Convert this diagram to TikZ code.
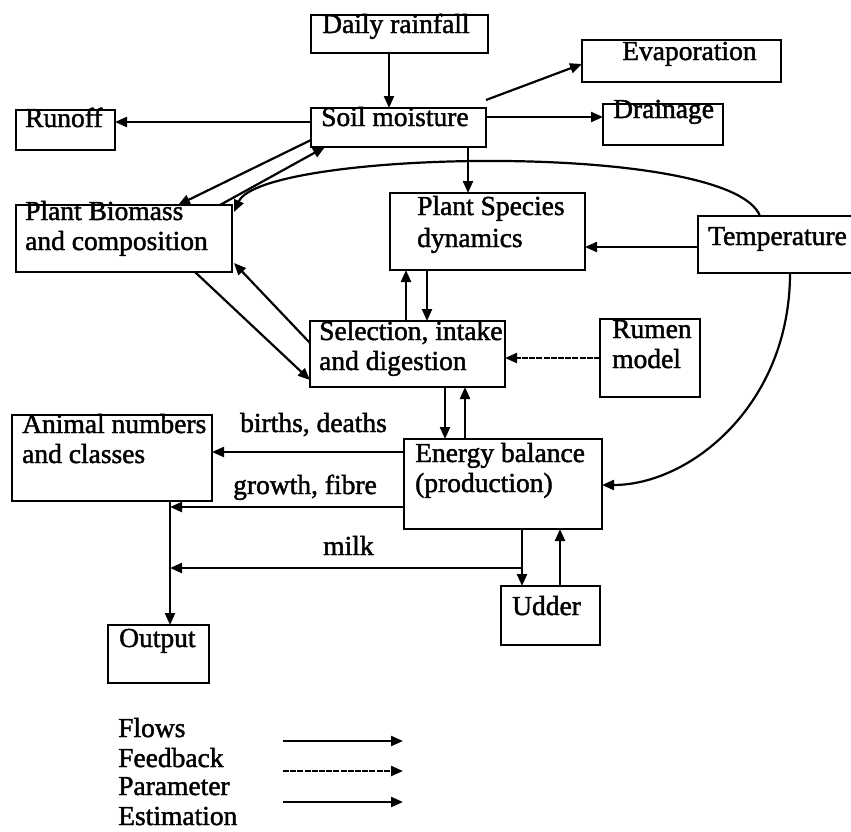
\documentclass[tikz,border=0pt]{standalone}
\usepackage{fontspec}
\setmainfont{Liberation Serif}[FakeBold=1.6]
\usetikzlibrary{arrows.meta}
\tikzset{
  bx/.style={draw, line width=2.4pt, inner sep=0pt, outer sep=0pt, anchor=north west},
  tx/.style={anchor=base west, inner sep=0pt, font=\fontsize{27.5}{30}\selectfont},
  arr/.style={line width=2.2pt, -{Triangle[length=12pt,width=10pt]}},
  fbarr/.style={arr, dash pattern=on 6pt off 1.2pt},
}
\newcommand\mkbox[5]{\node[bx, minimum width={#4-#2}, minimum height={#5-#3}] (#1) at (#2,#3) {};}
\begin{document}
\begin{tikzpicture}[x=1pt,y=-1pt]
\useasboundingbox (0,0) rectangle (851,831);
% boxes
\mkbox{rain}{311}{15}{488}{53}
\mkbox{evap}{582}{40}{781}{82}
\mkbox{soil}{311}{108}{486}{147}
\mkbox{runoff}{16}{110}{115}{150}
\mkbox{drain}{603}{104}{723}{145}
\mkbox{bio}{16}{205}{232}{272}
\mkbox{spec}{390}{193}{585}{270}
\mkbox{temp}{698}{216}{860}{273}
\mkbox{sel}{310}{321}{505}{387}
\mkbox{rumen}{600}{319}{700}{397}
\mkbox{anim}{12}{415}{212}{501}
\mkbox{energy}{404}{439}{602}{529}
\mkbox{udder}{501}{586}{600}{645}
\mkbox{output}{108}{625}{209}{683}
% texts
\node[tx] (t-rain) at (322,33) {Daily rainfall};
\node[tx] (t-evap) at (622,60) {Evaporation};
\node[tx] (t-soil) at (321,126) {Soil moisture};
\node[tx] (t-runoff) at (25,127) {Runoff};
\node[tx] (t-drain) at (613,118) {Drainage};
\node[tx] (t-bio1) at (25,220) {Plant Biomass};
\node[tx] (t-bio2) at (25,250) {and composition};
\node[tx] (t-spec1) at (417,215) {Plant Species};
\node[tx] (t-spec2) at (417,247) {dynamics};
\node[tx] (t-temp) at (708,245) {Temperature};
\node[tx] (t-sel1) at (319,340) {Selection, intake};
\node[tx] (t-sel2) at (319,370) {and digestion};
\node[tx] (t-rumen1) at (612,338) {Rumen};
\node[tx] (t-rumen2) at (612,368) {model};
\node[tx] (t-anim1) at (22,433) {Animal numbers};
\node[tx] (t-anim2) at (22,463) {and classes};
\node[tx] (t-energy1) at (415,462) {Energy balance};
\node[tx] (t-energy2) at (415,492) {(production)};
\node[tx] (t-udder) at (512,615) {Udder};
\node[tx] (t-output) at (119,647) {Output};
\node[tx] (l-bd) at (240,432) {births, deaths};
\node[tx] (l-gf) at (233,494) {growth, fibre};
\node[tx] (l-milk) at (323,555) {milk};
% connectors
\draw[arr] ([xshift=-10.5pt]rain.south) -- ([xshift=-9.5pt]soil.north);
\draw[arr] ([yshift=5.5pt]soil.west) -- ([yshift=8pt]runoff.east);
\draw[arr] ([yshift=8pt]soil.north east) -- ([yshift=-3pt]evap.west);
\draw[arr] ([yshift=10.5pt]soil.east) -- ([yshift=7.5pt]drain.west);
\draw[arr] ([yshift=-12.5pt]soil.west) -- ([xshift=54pt]bio.north);
\draw[arr] ([xshift=96pt]bio.north) -- ([xshift=-73.5pt]soil.south);
\draw[arr] ([xshift=69.5pt]soil.south) -- ([xshift=-19.5pt]spec.north);
\draw[arr] ([xshift=-19pt]temp.north) .. controls (730,140) and (262,150) .. ([xshift=2pt,yshift=26.5pt]bio.east);
\draw[arr] ([yshift=-2.5pt]temp.west) -- ([yshift=-15.5pt]spec.east);
\draw[arr] ([xshift=11pt]temp.south) .. controls (790,405) and (690,485) .. ([yshift=-1pt]energy.east);
\draw[arr] ([xshift=71pt]bio.south) -- ([yshift=-26pt]sel.west);
\draw[arr] ([yshift=11pt]sel.west) -- ([xshift=2pt,yshift=-24.5pt]bio.east);
\draw[arr] ([xshift=-1.5pt]sel.north) -- ([xshift=-81.5pt]spec.south);
\draw[arr] ([xshift=-60.5pt]spec.south) -- ([xshift=19.5pt]sel.north);
\draw[fbarr] (rumen.west) -- ([yshift=-4pt]sel.east);
\draw[arr] ([xshift=37.5pt]sel.south) -- ([xshift=-58pt]energy.north);
\draw[arr] ([xshift=-38pt]energy.north) -- ([xshift=57.5pt]sel.south);
\draw[arr] ([yshift=32pt]energy.west) -- ([yshift=6pt]anim.east);
\coordinate (gf) at (170,507);
\draw[arr] ([yshift=-23pt]energy.west) -- (gf);
\draw[arr] ([xshift=58pt]anim.south) -- ([xshift=11.5pt]output.north);
\draw[arr] ([xshift=19pt]energy.south) -- ([xshift=-28.5pt]udder.north);
\coordinate (mk) at (522,568);
\coordinate (mkend) at (170,568);
\draw[arr] (mk) -- (mkend);
\draw[arr] ([xshift=9.5pt]udder.north) -- ([xshift=57pt]energy.south);
% legend
\node[tx] (lg1) at (118,737) {Flows};
\node[tx] (lg2) at (118,767) {Feedback};
\node[tx] (lg3) at (118,795) {Parameter};
\node[tx] (lg4) at (118,825) {Estimation};
\coordinate (a1) at (283,741); \coordinate (b1) at (403,741);
\coordinate (a2) at (283,771); \coordinate (b2) at (403,771);
\coordinate (a3) at (283,802); \coordinate (b3) at (403,802);
\draw[arr] (a1) -- (b1);
\draw[fbarr] (a2) -- (b2);
\draw[arr] (a3) -- (b3);
\end{tikzpicture}
\end{document}
